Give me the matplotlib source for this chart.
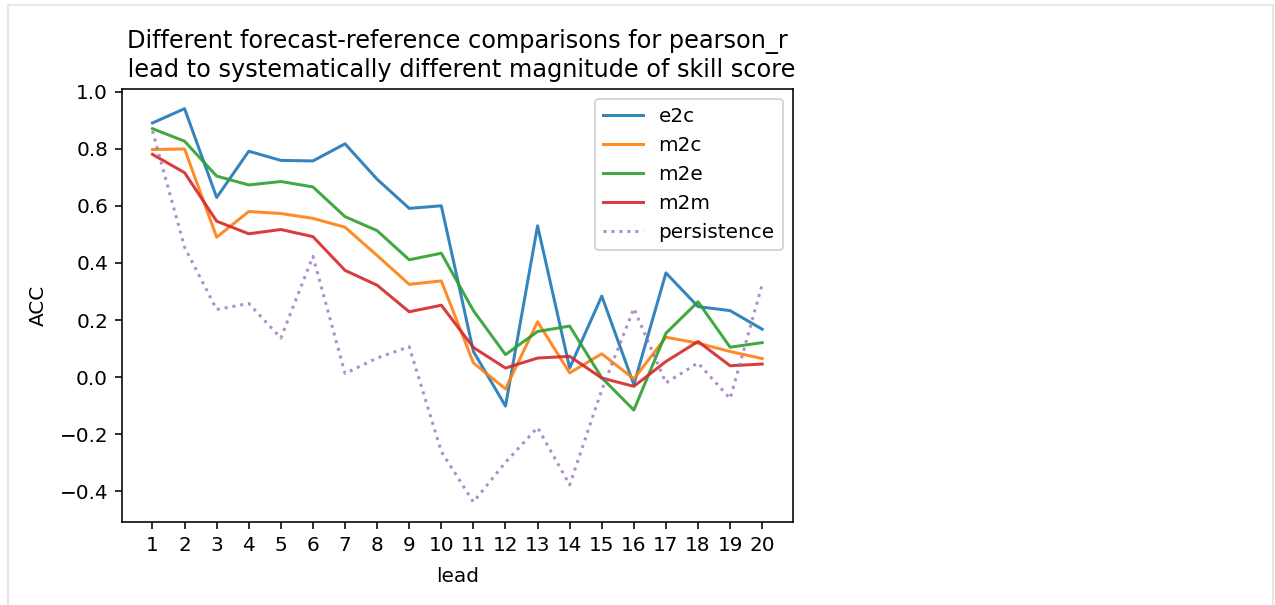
import matplotlib
matplotlib.use("Agg")
import matplotlib.pyplot as plt
from matplotlib.lines import Line2D

lead = list(range(1, 21))

e2c = [0.890, 0.940, 0.629, 0.791, 0.759, 0.757, 0.817, 0.693, 0.591, 0.600,
       0.090, -0.101, 0.530, 0.032, 0.284, -0.026, 0.365, 0.247, 0.233, 0.168]
m2c = [0.797, 0.799, 0.490, 0.580, 0.573, 0.556, 0.525, 0.426, 0.325, 0.337,
       0.050, -0.041, 0.194, 0.015, 0.082, -0.006, 0.140, 0.119, 0.090, 0.065]
m2e = [0.870, 0.826, 0.704, 0.673, 0.685, 0.666, 0.562, 0.513, 0.411, 0.434,
       0.233, 0.079, 0.160, 0.179, -0.002, -0.115, 0.154, 0.264, 0.105, 0.121]
m2m = [0.780, 0.716, 0.546, 0.502, 0.517, 0.492, 0.374, 0.322, 0.229, 0.252,
       0.104, 0.032, 0.067, 0.073, -0.003, -0.032, 0.055, 0.125, 0.040, 0.046]
persistence = [0.862, 0.455, 0.237, 0.258, 0.137, 0.423, 0.013, 0.067, 0.107, -0.260,
               -0.437, -0.298, -0.176, -0.377, -0.045, 0.241, -0.020, 0.050, -0.075, 0.325]

DPI = 144
W, H = 1275, 605
fig = plt.figure(figsize=(W / DPI, H / DPI), dpi=DPI)
ax = fig.add_axes([122 / W, 1 - 521.7 / H, (792.7 - 122) / W, (521.7 - 89) / H])

ax.plot(lead, e2c, label="e2c", alpha=0.9)
ax.plot(lead, m2c, label="m2c", alpha=0.9)
ax.plot(lead, m2e, label="m2e", alpha=0.9)
ax.plot(lead, m2m, label="m2m", alpha=0.9)
ax.plot(lead, persistence, ls=":", color="tab:purple", alpha=0.75, label="persistence")

ax.set_xticks(lead)
ax.set_xlabel("lead", labelpad=6)
ax.set_ylabel("ACC", labelpad=6)
ax.set_title("Different forecast-reference comparisons for pearson_r\n"
             " lead to systematically different magnitude of skill score")
ax.legend(loc="upper right")

# light frame around the output cell
frame_kw = dict(color="#e2e2e2", lw=0.8, transform=fig.transFigure)
fig.add_artist(Line2D([8 / W, 1273 / W], [1 - 5 / H, 1 - 5 / H], **frame_kw))
fig.add_artist(Line2D([8 / W, 8 / W], [0, 1 - 5 / H], **frame_kw))
fig.add_artist(Line2D([1273 / W, 1273 / W], [0, 1 - 5 / H], **frame_kw))

fig.savefig("out.png", dpi=DPI)
